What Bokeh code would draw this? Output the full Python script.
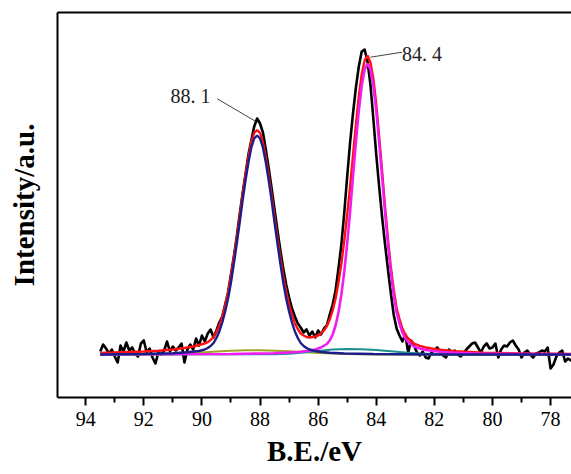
from bokeh.plotting import figure
from bokeh.models import Range1d, FixedTicker, LinearAxis
from bokeh.embed import file_html
from bokeh.resources import INLINE
from bokeh.core.properties import value

# ---------------- data (binding energy in eV, intensity in a.u.) ----------------
black_x = [93.5, 93.4, 93.3, 93.2, 93.1, 93.0, 92.9, 92.8, 92.7, 92.6, 92.5, 92.4, 92.3, 92.2, 92.1,
           92.0, 91.9, 91.8, 91.7, 91.6, 91.5, 91.4, 91.3, 91.2, 91.1, 91.0, 90.9, 90.8, 90.7, 90.6,
           90.5, 90.4, 90.3, 90.2, 90.1, 90.0, 89.9, 89.8, 89.7, 89.6, 89.5, 89.4, 89.3, 89.2, 89.1,
           89.0, 88.9, 88.8, 88.7, 88.6, 88.5, 88.4, 88.3, 88.2, 88.1, 88.0, 87.9, 87.8, 87.7, 87.6,
           87.5, 87.4, 87.3, 87.2, 87.1, 87.0, 86.9, 86.8, 86.7, 86.6, 86.5, 86.4, 86.3, 86.2, 86.1,
           86.0, 85.9, 85.8, 85.7, 85.6, 85.5, 85.4, 85.3, 85.2, 85.1, 85.0, 84.9, 84.8, 84.7, 84.6,
           84.5, 84.4, 84.3, 84.2, 84.1, 84.0, 83.9, 83.8, 83.7, 83.6, 83.5, 83.4, 83.3, 83.2, 83.1,
           83.0, 82.9, 82.8, 82.7, 82.6, 82.5, 82.4, 82.3, 82.2, 82.1, 82.0, 81.9, 81.8, 81.7, 81.6,
           81.5, 81.4, 81.3, 81.2, 81.1, 81.0, 80.9, 80.8, 80.7, 80.6, 80.5, 80.4, 80.3, 80.2, 80.1,
           80.0, 79.9, 79.8, 79.7, 79.6, 79.5, 79.4, 79.3, 79.2, 79.1, 79.0, 78.9, 78.8, 78.7, 78.6,
           78.5, 78.4, 78.3, 78.2, 78.1, 78.0, 77.9, 77.8, 77.7, 77.6, 77.5, 77.4, 77.3, 77.2]
black_y = [3, 10, 6, 1, 5, -2, -8, 9, 3, 12, 4, 7, 1, -2, 11,
           14, 2, 6, -3, -9, 2, 0, 4, 13, 3, 8, 4, 7, 11, -8,
           5, 10, 5, 16, 9, 19, 13, 21, 25, 17, 24, 32, 38, 50, 62,
           80, 98, 118, 140, 161, 180, 200, 214, 228, 236, 231, 222, 205, 186, 166,
           145, 124, 104, 86, 70, 57, 46, 38, 31, 27, 22, 25, 19, 23, 17,
           24, 20, 26, 29, 40, 50, 64, 86, 110, 142, 178, 212, 241, 267, 288,
           303, 305, 293, 270, 236, 200, 168, 138, 111, 86, 62, 40, 26, 19, 13,
           20, 2, 14, 9, 2, -1, 3, -3, -4, 2, 4, 7, 3, -1, -3,
           5, 2, 4, 0, -2, 1, 5, 8, 11, 12, 7, 2, 8, 11, 6,
           7, 11, -3, 5, 9, 8, 12, 14, 9, 5, -3, 2, 4, 0, -3,
           1, 2, 4, 3, 7, -14, -10, -2, 2, 4, -7, -4, -6, -3]

red_x = [93.5, 93.0, 92.5, 92.0, 91.5, 91.0, 90.6, 90.3, 90.1, 89.9, 89.8, 89.7, 89.6, 89.5, 89.4,
         89.3, 89.2, 89.1, 89.0, 88.9, 88.8, 88.7, 88.6, 88.5, 88.4, 88.3, 88.2, 88.1, 88.0, 87.9,
         87.8, 87.7, 87.6, 87.5, 87.4, 87.3, 87.2, 87.1, 87.0, 86.9, 86.8, 86.7, 86.6, 86.5, 86.4,
         86.3, 86.2, 86.1, 86.0, 85.9, 85.8, 85.7, 85.6, 85.5, 85.4, 85.3, 85.2, 85.1, 85.0, 84.9,
         84.8, 84.7, 84.6, 84.5, 84.4, 84.3, 84.2, 84.1, 84.0, 83.9, 83.8, 83.7, 83.6, 83.5, 83.4,
         83.3, 83.2, 83.1, 83.0, 82.9, 82.8, 82.7, 82.5, 82.3, 81.9, 81.3, 80.3, 79.0, 78.0, 77.2]
red_y = [1.5, 2, 2.5, 3, 3.8, 5, 6.5, 8, 9.5, 11, 12.3, 14.5, 17.5, 22.5, 29,
         38, 49, 62, 78, 97, 116.5, 137.5, 159.5, 179.5, 197.5, 212.5, 221.5, 224.5, 221.5, 212.5,
         197, 179, 159, 137.5, 116.5, 97, 78.5, 63, 50, 40, 31, 25.5, 21, 19, 17.5,
         17, 17.5, 18, 19, 21, 24, 28.5, 35, 44, 56, 72, 91, 114, 140, 168,
         199, 230, 258, 280, 294, 299, 292, 276, 250.5, 218, 184, 149, 116.5, 88, 65,
         46.5, 35.5, 26, 20, 16, 13.5, 11, 8.7, 7, 5, 3.3, 1.9, 1.1, 0.8, 0.6]

olive_x = [93.5, 91.0, 90.5, 90.0, 89.5, 89.0, 88.5, 88.0, 87.5, 87.0, 86.5, 86.0, 85.5, 85.0, 84.0, 77.2]
olive_y = [0, 0.3, 1, 2, 3, 3.8, 4.2, 4.2, 3.8, 3.2, 2.4, 1.6, 0.9, 0.4, 0.1, 0]

teal_x = [93.5, 87.5, 87.0, 86.5, 86.0, 85.5, 85.0, 84.5, 84.0, 83.5, 83.0, 82.5, 82.0, 81.0, 77.2]
teal_y = [0, 0.2, 0.8, 2, 3.6, 5, 5.6, 5.3, 4.4, 3.2, 2, 1, 0.4, 0.1, 0]

magenta_x = [93.5, 89.0, 87.5, 86.7, 86.3, 86.1, 85.9, 85.7, 85.6, 85.5, 85.4, 85.3, 85.2, 85.1, 85.0,
             84.9, 84.8, 84.7, 84.6, 84.5, 84.4, 84.3, 84.2, 84.1, 84.0, 83.9, 83.8, 83.7, 83.6, 83.5,
             83.4, 83.3, 83.2, 83.1, 83.0, 82.9, 82.8, 82.7, 82.5, 82.3, 81.9, 81.3, 80.3, 77.2]
magenta_y = [0.2, 0.5, 1.3, 2.5, 3.8, 5, 7, 10.5, 14, 20, 29, 42, 60, 83, 111,
             143, 178, 212, 244, 269, 285, 291, 285, 269, 244, 212, 178, 143, 111, 83,
             60, 42, 31, 22, 16, 12.5, 10, 8, 6, 4.5, 3, 1.8, 0.8, 0.3]

blue_x = [93.5, 92.0, 91.0, 90.5, 90.1, 89.9, 89.8, 89.7, 89.6, 89.5, 89.4, 89.3, 89.2, 89.1, 89.0,
          88.9, 88.8, 88.7, 88.6, 88.5, 88.4, 88.3, 88.2, 88.1, 88.0, 87.9, 87.8, 87.7, 87.6, 87.5,
          87.4, 87.3, 87.2, 87.1, 87.0, 86.9, 86.8, 86.7, 86.6, 86.5, 86.4, 86.3, 86.1, 85.9, 85.6,
          85.1, 84.1, 82.0, 77.2]
blue_y = [0, 0.5, 1.2, 2.2, 3.5, 5, 6.5, 8.5, 11.5, 16.5, 23, 32, 43, 56, 72,
          91, 111, 132, 154, 174, 192, 207, 216, 219, 216, 207, 192, 174, 154, 132,
          111, 91, 72, 56, 43, 32, 23, 16.5, 11.5, 8.5, 6.5, 5, 3.5, 2.5, 1.7,
          1, 0.5, 0, 0]

x_ticks = [94, 92, 90, 88, 86, 84, 82, 80, 78]
x_minor_ticks = [95, 93, 91, 89, 87, 85, 83, 81, 79, 77]

peak_labels = ["88. 1", "84. 4"]
peak_label_x = [91.08, 83.11]
peak_label_y = [259, 301]
leader_x0 = [89.47, 84.20]
leader_y0 = [255.7, 297.3]
leader_x1 = [88.16, 83.11]
leader_y1 = [233.3, 302.3]

x_title = "B.E./eV"
y_title = "Intensity/a.u."

# ---------------- figure ----------------
p = figure(width=571, height=474, output_backend="svg", toolbar_location=None,
           x_range=Range1d(94.97, 77.28), y_range=Range1d(-43, 342),
           min_border_left=57, min_border_right=0, min_border_top=12, min_border_bottom=77)
p.background_fill_color = "white"
p.border_fill_color = "white"
p.outline_line_color = None
p.grid.visible = False

# bottom axis
xa = p.xaxis[0]
xa.ticker = FixedTicker(ticks=x_ticks, minor_ticks=x_minor_ticks)
xa.axis_line_width = 2
xa.axis_line_color = "black"
xa.major_tick_in = 0
xa.major_tick_out = 8
xa.minor_tick_in = 0
xa.minor_tick_out = 5
xa.major_tick_line_width = 2
xa.minor_tick_line_width = 2
xa.major_tick_line_color = "black"
xa.minor_tick_line_color = "black"
xa.major_label_text_font = "Liberation Serif"
xa.major_label_text_font_size = "20px"
xa.major_label_text_color = "black"
xa.major_label_standoff = 6
xa.axis_label = x_title
xa.axis_label_text_font = "Liberation Serif"
xa.axis_label_text_font_size = "29px"
xa.axis_label_text_font_style = "bold"
xa.axis_label_text_color = "black"
xa.axis_label_standoff = 6

# left axis (no ticks)
ya = p.yaxis[0]
ya.ticker = FixedTicker(ticks=[])
ya.axis_line_width = 2
ya.axis_line_color = "black"
ya.major_tick_out = 0
ya.major_tick_in = 0
ya.minor_tick_out = 0
ya.minor_tick_in = 0
ya.major_label_text_font_size = "0px"
ya.major_label_standoff = 0
ya.axis_label = y_title
ya.axis_label_text_font = "Liberation Serif"
ya.axis_label_text_font_size = "29px"
ya.axis_label_text_font_style = "bold"
ya.axis_label_text_color = "black"
ya.axis_label_standoff = 18

# top border as an axis without ticks
top = LinearAxis(ticker=FixedTicker(ticks=[]), axis_line_width=2, axis_line_color="black",
                 major_tick_out=0, major_tick_in=0, minor_tick_out=0, minor_tick_in=0,
                 major_label_text_font_size="0px", major_label_standoff=0)
p.add_layout(top, "above")

# curves
p.line(black_x, black_y, line_color="black", line_width=2.6, line_join="round")
p.line(red_x, red_y, line_color="#ff1010", line_width=2.4)
p.line(olive_x, olive_y, line_color="#a3a32a", line_width=2.0)
p.line(teal_x, teal_y, line_color="#1f8f8f", line_width=2.0)
p.line(magenta_x, magenta_y, line_color="#f21cf2", line_width=2.6)
p.line(blue_x, blue_y, line_color="#1c1c8a", line_width=2.4)

# peak annotations
p.segment(x0=leader_x0, y0=leader_y0, x1=leader_x1, y1=leader_y1,
          line_color="#444444", line_width=1)
p.text(x=peak_label_x, y=peak_label_y, text=peak_labels,
       text_font=value("Liberation Serif"), text_font_size="20px",
       text_color="#222222", text_align="left", text_baseline="alphabetic")

open("out.html", "w").write(file_html(p, INLINE))
